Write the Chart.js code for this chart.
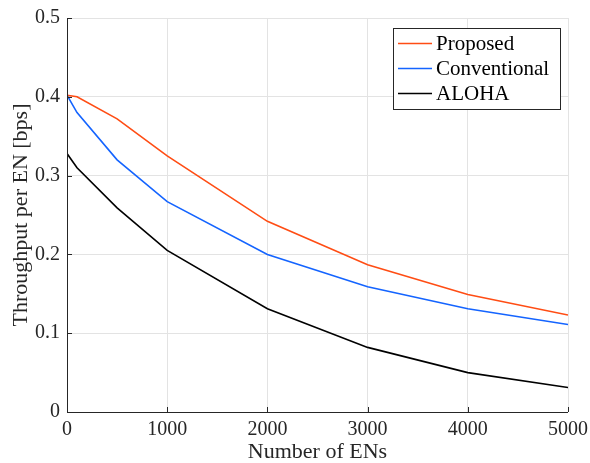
<!DOCTYPE html>
<html>
<head>
<meta charset="utf-8">
<script src="https://cdn.jsdelivr.net/npm/chart.js@4.4.0/dist/chart.umd.min.js"></script>
<style>
  html, body { margin: 0; padding: 0; background: #fff; }
  #wrap { width: 590px; height: 463px; position: relative; }
</style>
</head>
<body>
<div id="wrap"><canvas id="chart"></canvas></div>
<script>
// number of end nodes on the x axis
const numENs = [0, 100, 500, 1000, 2000, 3000, 4000, 5000];

// throughput per EN [bps]
const proposed     = [0.402, 0.400, 0.372, 0.325, 0.242, 0.187, 0.149, 0.123];
const conventional = [0.402, 0.380, 0.320, 0.267, 0.200, 0.159, 0.131, 0.111];
const aloha        = [0.328, 0.310, 0.259, 0.205, 0.131, 0.082, 0.050, 0.031];

const seriesNames = ['Proposed', 'Conventional', 'ALOHA'];
const seriesColors = ['#FF4D14', '#1464FF', '#000000'];

const xTicks = [0, 1000, 2000, 3000, 4000, 5000];
const yTicks = [0, 0.1, 0.2, 0.3, 0.4, 0.5];

const FONT = '"Liberation Serif", "Times New Roman", serif';
const AXIS_COLOR = '#262626';

function toPoints(vals) {
    return numENs.map((x, i) => ({ x: x, y: vals[i] }));
}

// inward tick marks + left/bottom axis lines, like a matlab "box off" plot
const axisPlugin = {
    id: 'axisPlugin',
    afterDatasetsDraw(chart) {
        const { ctx, chartArea, scales } = chart;
        ctx.save();
        ctx.strokeStyle = AXIS_COLOR;
        ctx.lineWidth = 1;
        ctx.beginPath();
        ctx.moveTo(chartArea.left + 0.5, chartArea.top);
        ctx.lineTo(chartArea.left + 0.5, chartArea.bottom + 0.5);
        ctx.lineTo(chartArea.right, chartArea.bottom + 0.5);
        ctx.stroke();
        ctx.beginPath();
        xTicks.forEach(t => {
            const px = Math.round(scales.x.getPixelForValue(t)) + 0.5;
            ctx.moveTo(px, chartArea.bottom);
            ctx.lineTo(px, chartArea.bottom - 5);
        });
        yTicks.forEach(t => {
            const py = Math.round(scales.y.getPixelForValue(t)) + 0.5;
            ctx.moveTo(chartArea.left, py);
            ctx.lineTo(chartArea.left + 5, py);
        });
        ctx.stroke();
        ctx.restore();
    }
};

// boxed legend in the upper right corner
const legendBox = {
    id: 'legendBox',
    afterDraw(chart) {
        const ctx = chart.ctx;
        const x0 = 393.5, y0 = 28.5, w = 167, h = 81;
        ctx.save();
        ctx.fillStyle = '#fff';
        ctx.fillRect(x0, y0, w, h);
        ctx.strokeStyle = '#262626';
        ctx.lineWidth = 1;
        ctx.strokeRect(x0, y0, w, h);
        ctx.font = '21px ' + FONT;
        ctx.textBaseline = 'middle';
        ctx.fillStyle = '#000';
        chart.data.datasets.forEach((ds, i) => {
            const cy = 43.5 + i * 25;
            ctx.strokeStyle = ds.borderColor;
            ctx.lineWidth = 1.5;
            ctx.beginPath();
            ctx.moveTo(398, cy);
            ctx.lineTo(432, cy);
            ctx.stroke();
            ctx.fillText(ds.label, 436, cy + 1);
        });
        ctx.restore();
    }
};

new Chart(document.getElementById('chart'), {
    type: 'line',
    data: {
        datasets: [proposed, conventional, aloha].map((vals, i) => ({
            label: seriesNames[i],
            data: toPoints(vals),
            borderColor: seriesColors[i],
            backgroundColor: seriesColors[i],
            borderWidth: 1.6,
            pointRadius: 0,
            tension: 0,
            fill: false
        }))
    },
    options: {
        responsive: true,
        maintainAspectRatio: false,
        animation: false,
        layout: { padding: { left: 0, top: 18, right: 22, bottom: 0 } },
        plugins: {
            legend: { display: false },
            tooltip: { enabled: false }
        },
        scales: {
            x: {
                type: 'linear',
                min: 0,
                max: 5000,
                afterBuildTicks: s => { s.ticks = xTicks.map(v => ({ value: v })); },
                afterFit: s => { s.height = 51; s.paddingLeft = 0; s.paddingRight = 0; },
                grid: { color: '#e3e3e3', drawTicks: false },
                border: { display: false },
                ticks: {
                    padding: 6,
                    color: '#262626',
                    font: { family: FONT, size: 20 },
                    maxRotation: 0,
                    callback: v => String(v)
                },
                title: {
                    display: true,
                    text: 'Number of ENs',
                    color: '#262626',
                    font: { family: FONT, size: 22, lineHeight: 1 },
                    padding: { top: 0, bottom: 0 }
                }
            },
            y: {
                min: 0,
                max: 0.5,
                afterBuildTicks: s => { s.ticks = yTicks.map(v => ({ value: v })); },
                afterFit: s => { s.width = 67; s.paddingTop = 0; s.paddingBottom = 0; },
                grid: { color: '#e3e3e3', drawTicks: false },
                border: { display: false },
                ticks: {
                    padding: 7,
                    color: '#262626',
                    font: { family: FONT, size: 20 },
                    callback: v => v === 0 ? '0' : v.toFixed(1)
                },
                title: {
                    display: true,
                    text: 'Throughput per EN [bps]',
                    color: '#262626',
                    font: { family: FONT, size: 22 },
                    padding: { top: 8, bottom: 0 }
                }
            }
        }
    },
    plugins: [axisPlugin, legendBox]
});
</script>
</body>
</html>
